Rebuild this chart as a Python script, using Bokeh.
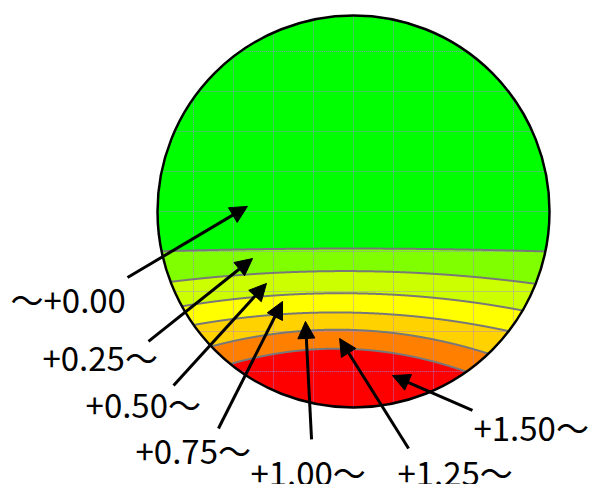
import numpy as np
from bokeh.plotting import figure
from bokeh.models import Arrow, NormalHead, Range1d, ColumnDataSource
from bokeh.embed import file_html
from bokeh.resources import INLINE
from bokeh.core.properties import value

# ---- data (unit-circle coordinates: lens centre at 0,0, radius 1) ----
band_labels = ["～+0.00", "+0.25～", "+0.50～", "+0.75～", "+1.00～", "+1.25～", "+1.50～"]
band_colors = ["#00ff00", "#80ff00", "#ccff00", "#ffff00", "#ffd200", "#ff8000", "#ff0000"]

# boundaries between consecutive bands (parabolic arcs): vertex height, vertex x, curvature
boundary_y = [-0.189, -0.304, -0.417, -0.515, -0.603, -0.700]
boundary_x0 = [-0.015, -0.041, -0.066, -0.092, -0.082, -0.087]
boundary_curv = [0.015, 0.069, 0.102, 0.122, 0.206, 0.267]

# arrow tips (pointing into each band) and arrow tails
tip_x = [-0.541, -0.515, -0.444, -0.362, -0.245, -0.071, 0.199]
tip_y = [0.026, -0.240, -0.367, -0.459, -0.561, -0.648, -0.837]
tail_x = [-1.153, -1.046, -0.918, -0.689, -0.214, 0.281, 0.607]
tail_y = [-0.337, -0.663, -0.888, -1.107, -1.163, -1.209, -1.015]

# label anchors (left, vertical position)
label_x = [-1.750, -1.587, -1.367, -1.112, -0.526, 0.224, 0.612]
label_y = [-0.444, -0.740, -0.980, -1.215, -1.327, -1.327, -1.097]

# grid lines inside the lens
grid_pos = [k * 40 / 196 for k in range(-4, 5)]

# ---- figure ----
p = figure(width=594, height=484, output_backend="svg", toolbar_location=None,
           x_range=Range1d(-353 / 196, 241 / 196), y_range=Range1d(-273 / 196, 211 / 196),
           min_border=0)
p.axis.visible = False
p.grid.visible = False
p.outline_line_color = None
p.background_fill_color = "white"
p.border_fill_color = "white"

# full lens (top band)
th = np.linspace(0, 2 * np.pi, 720)
p.patch(np.cos(th), np.sin(th), fill_color=band_colors[0], line_color=None)

xs = np.linspace(-1, 1, 4001)
circ = np.sqrt(np.clip(1 - xs ** 2, 0, None))
band_xs, band_ys, line_xs, line_ys = [], [], [], []
for i in range(len(boundary_y)):
    curve = boundary_y[i] - boundary_curv[i] * (xs - boundary_x0[i]) ** 2
    top = np.minimum(curve, circ)
    m = top > -circ
    band_xs.append(np.concatenate([xs[m], xs[m][::-1]]))
    band_ys.append(np.concatenate([top[m], (-circ)[m][::-1]]))
    ml = (curve > -circ) & (curve < circ)
    line_xs.append(xs[ml])
    line_ys.append(curve[ml])

p.patches(band_xs, band_ys, fill_color=band_colors[1:], line_color=None)

# dotted grid clipped to the lens
gx0, gy0, gx1, gy1 = [], [], [], []
for g in grid_pos:
    h = np.sqrt(1 - g ** 2)
    gx0 += [g, -h]; gy0 += [-h, g]
    gx1 += [g, h]; gy1 += [h, g]
p.segment(gx0, gy0, gx1, gy1, line_color="#a080e8", line_alpha=0.8,
          line_width=1, line_dash="1 1")

p.multi_line(line_xs, line_ys, line_color="#787878", line_width=2)

# lens outline
p.circle(x=[0], y=[0], radius=1, fill_color=None, line_color="black", line_width=2.5)

# arrows
src = ColumnDataSource(dict(x0=tail_x, y0=tail_y, x1=tip_x, y1=tip_y))
p.add_layout(Arrow(end=NormalHead(size=17, fill_color="black", line_color="black"),
                   x_start="x0", y_start="y0", x_end="x1", y_end="y1",
                   line_width=3, line_color="black", source=src))

# labels
p.text(x=label_x, y=label_y, text=band_labels, text_font=value("Noto Sans CJK JP"),
       text_font_size="33px", text_color="black", text_align="left",
       text_baseline="alphabetic")

open("out.html", "w").write(file_html(p, INLINE))
